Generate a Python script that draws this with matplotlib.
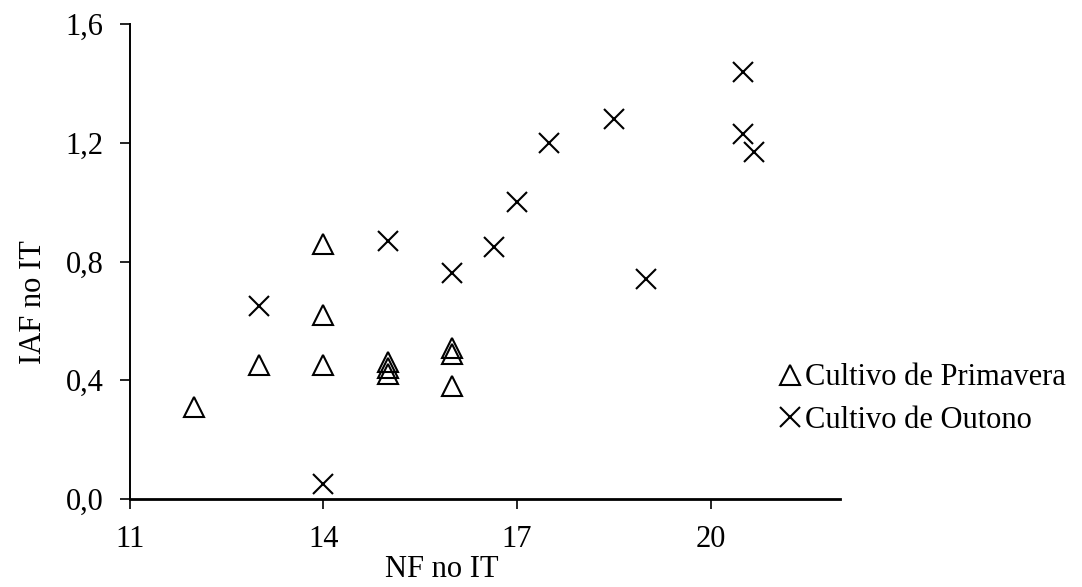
import matplotlib.pyplot as plt
from matplotlib.ticker import FuncFormatter

# Cultivo de Primavera (triangles)
prim_nf = [12, 13, 14, 14, 14, 15, 15, 15, 16, 16, 16]
prim_iaf = [0.31, 0.45, 0.86, 0.62, 0.45, 0.46, 0.44, 0.42, 0.51, 0.49, 0.38]

# Cultivo de Outono (crosses)
out_nf = [13, 14, 15, 16, 16.65, 17, 17.5, 18.5, 19, 20.5, 20.5, 20.67]
out_iaf = [0.65, 0.05, 0.87, 0.76, 0.85, 1.00, 1.20, 1.28, 0.74, 1.44, 1.23, 1.17]

x_ticks = [11, 14, 17, 20]
y_ticks = [0.0, 0.4, 0.8, 1.2, 1.6]

plt.rcParams['font.family'] = ['Liberation Serif', 'DejaVu Serif']

fig = plt.figure(figsize=(10.82, 5.87), dpi=100)
ax = fig.add_axes([0.120, 0.150, 0.656, 0.809])

ax.plot(prim_nf, prim_iaf, linestyle='none', marker='^', markersize=14,
        markerfacecolor='none', markeredgecolor='black', markeredgewidth=1.5,
        label='Cultivo de Primavera')
ax.plot(out_nf, out_iaf, linestyle='none', marker='x', markersize=14,
        color='black', markeredgewidth=1.5, label='Cultivo de Outono')

ax.set_xlim(11, 22)
ax.set_ylim(0, 1.6)
ax.set_xticks(x_ticks)
ax.set_yticks(y_ticks)
ax.yaxis.set_major_formatter(FuncFormatter(lambda v, p: f"{v:.1f}".replace('.', ',')))

for s in ['top', 'right']:
    ax.spines[s].set_visible(False)
ax.spines['left'].set_linewidth(1.4)
ax.spines['bottom'].set_linewidth(2.0)
ax.tick_params(axis='both', direction='out', length=7, width=1.2, labelsize=22)
ax.tick_params(axis='x', pad=12)
ax.tick_params(axis='y', pad=12)

ax.set_xlabel('NF no IT', fontsize=22)
ax.set_ylabel('IAF no IT', fontsize=22)
ax.xaxis.set_label_coords(0.44, -0.118)
ax.yaxis.set_label_coords(-0.115, 0.415)

ax.legend(loc='center left', bbox_to_anchor=(0.913, 0.21), frameon=False,
          fontsize=22, handlelength=0.8, handletextpad=0.1, labelspacing=0.45,
          borderaxespad=0, borderpad=0)

fig.savefig('out.png', dpi=100)
